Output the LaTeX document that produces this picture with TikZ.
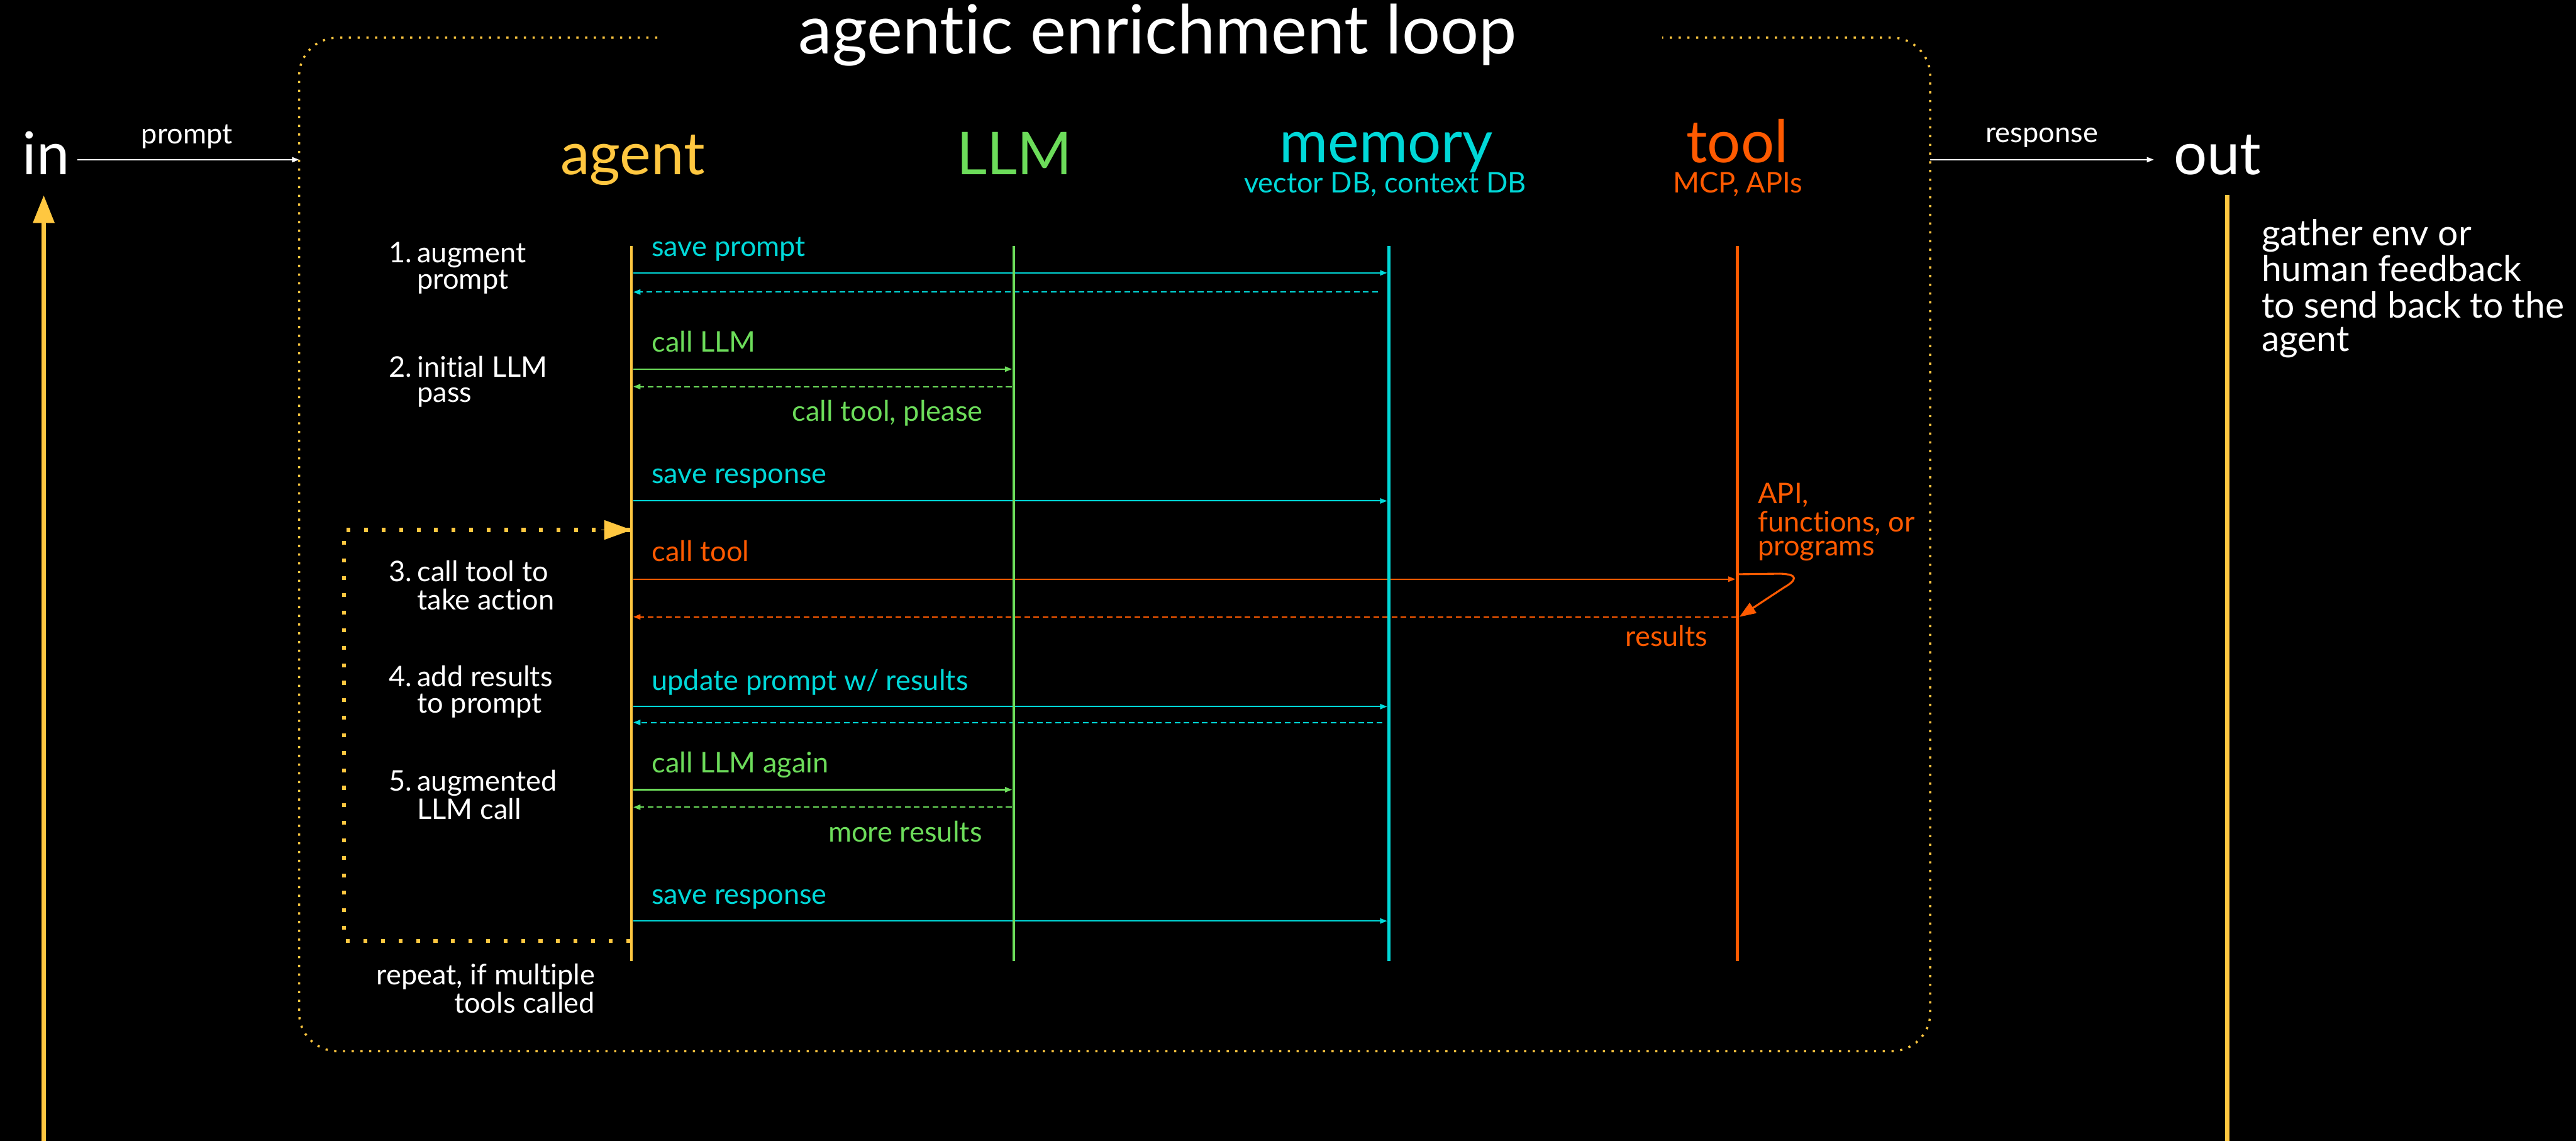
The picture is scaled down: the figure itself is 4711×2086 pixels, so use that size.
\documentclass[tikz,border=0pt]{standalone}
\usepackage{fontspec}
\setmainfont{Lato}[Ligatures={NoCommon,NoRare}, Contextuals={NoAlternate}]
\usetikzlibrary{arrows.meta}
\definecolor{cyel}{RGB}{255,199,64}
\definecolor{cgrn}{RGB}{108,220,90}
\definecolor{ccyn}{RGB}{0,216,216}
\definecolor{corg}{RGB}{255,90,0}
\newcommand\fs[2]{\fontsize{#1}{#2}\selectfont}
\newcommand\stepl[3]{\begin{tabular}[t]{@{}l@{}l@{}}\makebox[13pt][l]{#1}&#2\\&#3\end{tabular}}
\begin{document}
\begin{tikzpicture}[x=0.25pt,y=-0.25pt,
  txt/.style={inner sep=0pt, outer sep=0pt, text=white},
  lbl/.style={txt, font=\fs{13pt}{11.5pt}},
  hdr/.style={inner sep=0pt, outer sep=0pt, font=\fs{27pt}{30pt}},
  subhdr/.style={inner sep=0pt, outer sep=0pt, font=\fs{13pt}{14pt}},
  lifeln/.style={line width=1.3pt},
  fwd/.style={line width=0.6pt, -{Triangle[length=3.25pt,width=2.4pt]}, shorten >=0.8pt, shorten <=0.8pt},
  back/.style={line width=0.6pt, dash pattern=on 2.6pt off 1.6pt, -{Triangle[length=3.25pt,width=2.4pt]}, shorten >=0.8pt},
  loopbox/.style={cyel, line width=1pt, dash pattern=on 1pt off 3pt, rounded corners=17.5pt},
  loopdots/.style={cyel, line width=1.75pt, dash pattern=on 1.75pt off 6.25pt},
  flow/.style={white, line width=0.55pt, -{Triangle[length=3.25pt,width=2.4pt]}},
]
\useasboundingbox (0,0) rectangle (4711,2086);
\fill[black] (0,0) rectangle (4711,2086);

% title
\node[txt, font=\fs{31pt}{34pt}, anchor=base] (title) at (2117,98) {agentic enrichment loop};

% outer dotted loop box
\draw[loopbox] (1202,69) -- (547,69) -- (547,1922) -- (3530,1922) -- (3530,69) -- (3040,69);
\coordinate (boxIn) at (547,292);
\coordinate (boxOut) at (3530,292);

% in / out
\node[hdr, text=white, anchor=base west] (in) at (41,319) {in};
\node[hdr, text=white, anchor=base west] (out) at (3975,319) {out};
\coordinate (inStart) at (141,292);
\coordinate (outEnd) at (3939,292);
\draw[flow] (inStart) -- (boxIn);
\draw[flow] (boxOut) -- (outEnd);
\node[lbl, anchor=base] (promptlbl) at (342,263) {prompt};
\node[lbl, anchor=base] (resplbl) at (3734,261) {response};

% feedback lines
\coordinate (fbBot) at (80,2086);
\coordinate (fbTop) at (80,357);
\draw[cyel, line width=2pt, -{Triangle[length=12.75pt,width=9.5pt]}] (fbBot) -- (fbTop);
\coordinate (outLineTop) at (4073,357);
\coordinate (outLineBot) at (4073,2086);
\draw[cyel, line width=2pt] (outLineTop) -- (outLineBot);
\node[txt, font=\fs{16.4pt}{14.75pt}, anchor=base west] (fbtxt) at (4136,449)
  {\begin{tabular}[t]{@{}l@{}}gather env or\\human feedback\\to send back to the\\agent\end{tabular}};

% headers
\node[hdr, text=cyel, anchor=base] (agentH) at (1157,319) {agent};
\node[hdr, text=cgrn, anchor=base] (llmH) at (1855,319) {LLM};
\node[hdr, text=ccyn, anchor=base] (memH) at (2535,297) {memory};
\node[subhdr, text=ccyn, anchor=base] (memS) at (2533,353) {vector DB, context DB};
\node[hdr, text=corg, anchor=base] (toolH) at (3177,297) {tool};
\node[subhdr, text=corg, anchor=base] (toolS) at (3178,353) {MCP, APIs};

% lifeline anchors
\coordinate (agT) at (1155,450);  \coordinate (agB) at (1155,1757);
\coordinate (llT) at (1854,450);  \coordinate (llB) at (1854,1757);
\coordinate (meT) at (2540,450);  \coordinate (meB) at (2540,1757);
\coordinate (toT) at (3177,450);  \coordinate (toB) at (3177,1757);

% messages
\draw[fwd, ccyn] (agT |- 0,499) -- (meT |- 0,499);
\draw[back, ccyn, shorten <=5pt] (meT |- 0,534) -- (agT |- 0,534);
\draw[fwd, cgrn] (agT |- 0,675) -- (llT |- 0,675);
\draw[back, cgrn, shorten <=1pt] (llT |- 0,707) -- (agT |- 0,707);
\draw[fwd, ccyn] (agT |- 0,916) -- (meT |- 0,916);
\draw[fwd, corg] (agT |- 0,1059) -- (toT |- 0,1059);
\draw[back, corg] (toT |- 0,1128) -- (agT |- 0,1128);
\draw[fwd, ccyn] (agT |- 0,1292) -- (meT |- 0,1292);
\draw[back, ccyn, shorten <=3pt] (meT |- 0,1321) -- (agT |- 0,1321);
\draw[fwd, cgrn] (agT |- 0,1444) -- (llT |- 0,1444);
\draw[back, cgrn, shorten <=1pt] (llT |- 0,1476) -- (agT |- 0,1476);
\draw[fwd, ccyn] (agT |- 0,1684) -- (meT |- 0,1684);

% tool self-call
\draw[corg, line width=0.9pt, -{Triangle[length=7.5pt,width=5.5pt]}]
  (toT |- 0,1050) -- (3255,1049) .. controls (3292,1050) and (3284,1062) .. (3263,1074) -- ([xshift=1pt]toT |- 0,1128);

% lifelines
\draw[lifeln, cyel] (agT) -- (agB);
\draw[lifeln, cgrn] (llT) -- (llB);
\draw[lifeln, ccyn] (meT) -- (meB);
\draw[lifeln, corg] (toT) -- (toB);

% inner repeat loop
\coordinate (rpBR) at (1152,1721);
\coordinate (rpBL) at (629,1721);
\coordinate (rpTL) at (629,969);
\draw[loopdots] (rpBR) -- (rpBL) -- (rpTL) -- (agT |- 0,969);
\draw[cyel, line width=0.1pt, -{Triangle[length=12.5pt,width=9pt]}] (1100,969) -- (agT |- 0,969);

% message labels
\node[lbl, text=ccyn, anchor=base west] (m1) at (1192,469) {save prompt};
\node[lbl, text=cgrn, anchor=base west] (m2) at (1192,643) {call LLM};
\node[lbl, text=cgrn, anchor=base east] (m2r) at (1797,770) {call tool, please};
\node[lbl, text=ccyn, anchor=base west] (m3) at (1192,884) {save response};
\node[lbl, text=corg, anchor=base west] (m4) at (1192,1027) {call tool};
\node[lbl, text=corg, anchor=base east] (m4r) at (3123,1182) {results};
\node[lbl, text=corg, font=\fs{13pt}{11.1pt}, anchor=base west] (api) at (3215,921)
  {\begin{tabular}[t]{@{}l@{}}API,\\functions, or\\programs\end{tabular}};
\node[lbl, text=ccyn, anchor=base west] (m5) at (1192,1262) {update prompt w/ results};
\node[lbl, text=cgrn, anchor=base west] (m6) at (1192,1413) {call LLM again};
\node[lbl, text=cgrn, anchor=base east] (m6r) at (1796,1539) {more results};
\node[lbl, text=ccyn, anchor=base west] (m7) at (1192,1653) {save response};

% step labels
\node[lbl, anchor=base west] (s1) at (711,480) {\stepl{1.}{augment}{prompt}};
\node[lbl, anchor=base west] (s2) at (711,690) {\stepl{2.}{initial LLM}{pass}};
\node[lbl, anchor=base west] (s3) at (711,1063) {\stepl{3.}{call tool to}{take action}};
\node[lbl, anchor=base west] (s4) at (711,1255) {\stepl{4.}{add results}{to prompt}};
\node[lbl, anchor=base west] (s5) at (711,1446) {\stepl{5.}{augmented}{LLM call}};
\node[lbl, anchor=base east] (rep) at (1088,1800)
  {\begin{tabular}[t]{@{}r@{}}repeat, if multiple\\tools called\end{tabular}};
\end{tikzpicture}
\end{document}
